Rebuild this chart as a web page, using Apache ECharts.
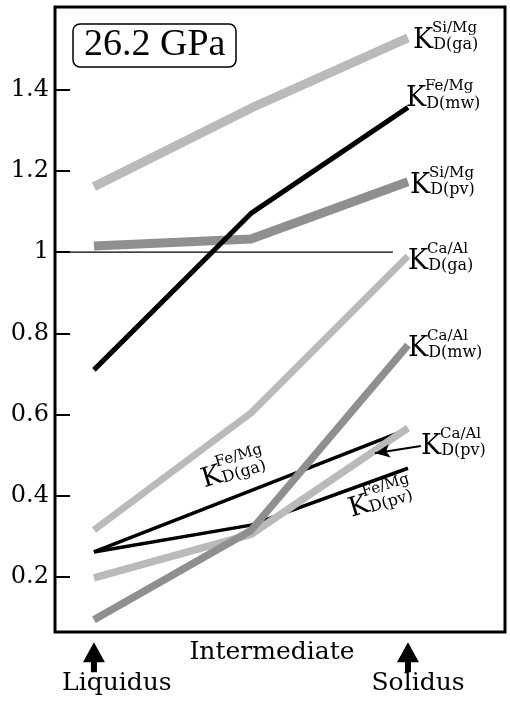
<!DOCTYPE html>
<html>
<head>
<meta charset="utf-8">
<script src="https://cdn.jsdelivr.net/npm/echarts@6/dist/echarts.min.js"></script>
<style>
  html, body { margin: 0; background: #fff; }
  #chart { width: 510px; height: 711px; }
</style>
</head>
<body>
<div id="chart"></div>
<script>
// stages along the x axis (liquidus -> solidus)
const stages = ['Liquidus', 'Intermediate', 'Solidus'];
const stageX = [0, 0.5, 1];
const stageLabelX = [0.073, 0.567, 1.032];
const yTicks = [0.2, 0.4, 0.6, 0.8, 1, 1.2, 1.4];

// KD values at liquidus / intermediate / solidus
const kdSiMgGa = [1.161, 1.354, 1.527];
const kdFeMgMw = [0.710, 1.095, 1.356];
const kdSiMgPv = [1.015, 1.032, 1.173];
const kdCaAlGa = [0.316, 0.604, 0.990];
const kdCaAlMw = [0.095, 0.315, 0.771];
const kdCaAlPv = [0.198, 0.305, 0.567];
const kdFeMgGa = [0.262, 0.413, 0.564];
const kdFeMgPv = [0.262, 0.328, 0.468];
const refValue = 1;
const pressure = '26.2 GPa';

const serif = 'DejaVu Serif';
const LIGHT = '#bababa';
const DARK = '#8f8f8f';

const xMin = -0.124, xMax = 1.309;
const yMin = 0.065, yMax = 1.603;
const tickLen = 0.048; // ~15px in x units

const kRich = {
  sp: {width: 19, lineHeight: 2},
  sup: {fontFamily: serif, fontSize: 15, lineHeight: 2, color: '#000'},
  k: {fontFamily: serif, fontSize: 27, lineHeight: 24, color: '#000'},
  sub: {fontFamily: serif, fontSize: 16, lineHeight: 12, verticalAlign: 'bottom', color: '#000'}
};
const kText = (sup, sub) => '{sp|}{sup|' + sup + '}\n{k|K}{sub|D(' + sub + ')}';

const toPoints = (vals, endLabel) => vals.map((v, i) => {
  if (i === vals.length - 1 && endLabel) {
    return {
      value: [stageX[i], v],
      label: {
        show: true, position: 'right', distance: 0, offset: endLabel.offset,
        formatter: kText(endLabel.sup, endLabel.sub), rich: kRich
      }
    };
  }
  return [stageX[i], v];
});

const kdLine = (name, vals, opts) => ({
  name: name,
  type: 'line',
  data: toPoints(vals, opts.label),
  symbol: 'circle',
  symbolSize: 0,
  showSymbol: true,
  silent: true,
  animation: false,
  z: opts.z,
  lineStyle: {color: opts.color, width: opts.width, cap: 'butt', join: 'round'},
  itemStyle: {color: opts.color},
  emphasis: {disabled: true},
  markPoint: opts.markPoint,
  markLine: opts.markLine
});

const rotatedLabel = (coord, sup, sub) => ({
  symbol: 'circle', symbolSize: 0, silent: true, animation: false,
  data: [{
    coord: coord,
    label: {show: true, position: 'inside', rotate: 17, formatter: kText(sup, sub), rich: kRich}
  }]
});

const chart = echarts.init(document.getElementById('chart'));

chart.setOption({
  backgroundColor: '#fff',
  animation: false,
  title: {
    text: pressure,
    left: 73,
    top: 24,
    padding: [3, 11, 3, 11],
    borderColor: '#000',
    borderWidth: 1.5,
    borderRadius: 7,
    textStyle: {fontFamily: 'Liberation Serif', fontSize: 38, fontWeight: 'normal', color: '#000', lineHeight: 37}
  },
  grid: {
    left: 55, right: 5, top: 7, bottom: 79,
    show: true, borderColor: '#000', borderWidth: 3,
    outerBoundsMode: 'none'
  },
  xAxis: {
    type: 'value',
    min: xMin,
    max: xMax,
    axisLine: {show: false, onZero: false},
    axisTick: {show: false},
    splitLine: {show: false},
    axisLabel: {
      customValues: stageLabelX,
      interval: 0,
      hideOverlap: false,
      showMinLabel: true,
      showMaxLabel: true,
      margin: 7,
      formatter: (v) => {
        const i = stageLabelX.indexOf(Number(v));
        // the end stages sit one step lower, under their arrows
        return i === 1 ? '{s|' + stages[i] + '}' : '{gap|}\n{s|' + stages[i] + '}';
      },
      rich: {
        gap: {lineHeight: 31},
        s: {fontFamily: serif, fontSize: 25, lineHeight: 26, color: '#000'}
      }
    }
  },
  yAxis: {
    type: 'value',
    min: yMin,
    max: yMax,
    axisLine: {show: false, onZero: false},
    splitLine: {show: false},
    axisTick: {show: false},
    axisLabel: {customValues: yTicks, showMinLabel: true, showMaxLabel: true, margin: 6, fontFamily: serif, fontSize: 24, color: '#000'}
  },
  series: [
    {
      name: 'ref',
      type: 'line',
      data: [[xMin, refValue], [0.952, refValue]],
      symbol: 'none',
      silent: true,
      z: 1,
      lineStyle: {color: '#000', width: 1.2},
      // y ticks pointing into the plot
      markLine: {
        silent: true, animation: false, symbol: 'none',
        label: {show: false},
        lineStyle: {color: '#000', width: 2, type: 'solid'},
        data: yTicks.map(t => [{coord: [xMin, t]}, {coord: [xMin + tickLen, t]}])
      }
    },
    kdLine('FeMg ga', kdFeMgGa, {color: '#000', width: 3.5, z: 2,
      markPoint: rotatedLabel([0.443, 0.463], 'Fe/Mg', 'ga')}),
    kdLine('FeMg pv', kdFeMgPv, {color: '#000', width: 3.5, z: 2,
      markPoint: rotatedLabel([0.911, 0.39], 'Fe/Mg', 'pv')}),
    kdLine('SiMg ga', kdSiMgGa, {color: LIGHT, width: 9, z: 3,
      label: {sup: 'Si/Mg', sub: 'ga', offset: [5, 2]}}),
    kdLine('SiMg pv', kdSiMgPv, {color: DARK, width: 9, z: 3,
      label: {sup: 'Si/Mg', sub: 'pv', offset: [2, 3]}}),
    kdLine('CaAl ga', kdCaAlGa, {color: LIGHT, width: 7, z: 3,
      label: {sup: 'Ca/Al', sub: 'ga', offset: [0, 5]}}),
    kdLine('CaAl pv', kdCaAlPv, {color: LIGHT, width: 7.5, z: 3,
      label: {sup: 'Ca/Al', sub: 'pv', offset: [13, 18]},
      markLine: {
        silent: true, animation: false,
        symbol: ['none', 'arrow'], symbolSize: [10, 15],
        label: {show: false},
        lineStyle: {color: '#000', width: 2, type: 'solid'},
        data: [[{coord: [1.041, 0.5225]}, {coord: [0.895, 0.505]}]]
      }}),
    kdLine('CaAl mw', kdCaAlMw, {color: DARK, width: 7.5, z: 4,
      label: {sup: 'Ca/Al', sub: 'mw', offset: [0, 3]}}),
    kdLine('FeMg mw', kdFeMgMw, {color: '#000', width: 5, z: 5,
      label: {sup: 'Fe/Mg', sub: 'mw', offset: [-2, -9]}}),
    {
      name: 'stage arrows',
      type: 'scatter',
      data: [[stageX[0], 0.003], [stageX[2], 0.003]],
      symbol: 'path://M11,0 L22,20 L14,20 L14,30 L8,30 L8,20 L0,20 Z',
      symbolSize: [22, 30],
      clip: false,
      silent: true,
      z: 6,
      itemStyle: {color: '#000', opacity: 1}
    }
  ]
});
</script>
</body>
</html>
